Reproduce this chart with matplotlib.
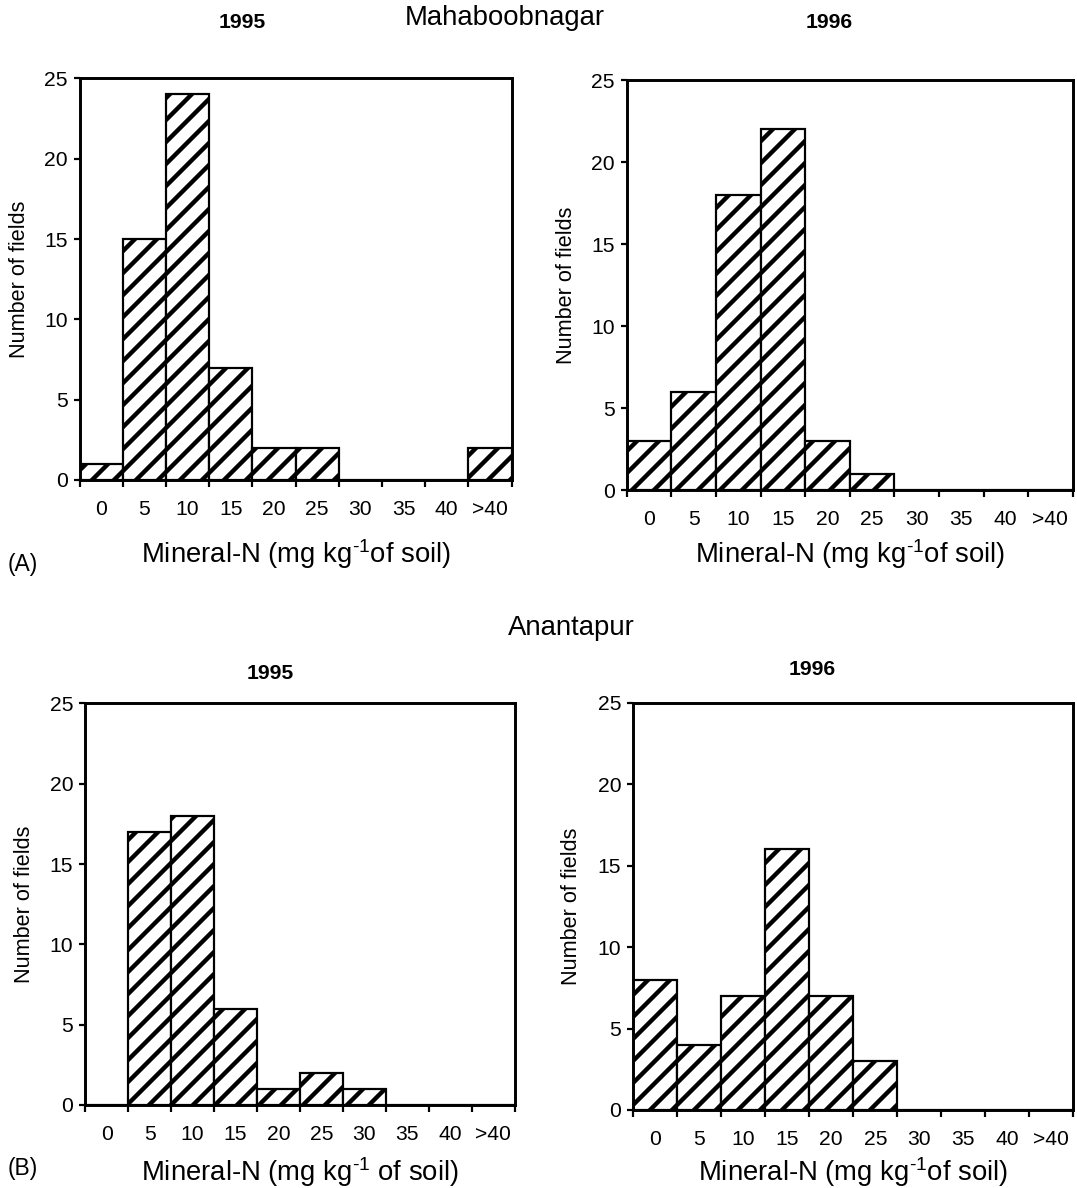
import numpy as np
import matplotlib
matplotlib.use('Agg')
import matplotlib.pyplot as plt

plt.rcParams['font.family'] = ['Liberation Sans', 'DejaVu Sans']
plt.rcParams['mathtext.fontset'] = 'custom'
plt.rcParams['mathtext.rm'] = 'Liberation Sans'
plt.rcParams['mathtext.default'] = 'regular'
plt.rcParams['hatch.linewidth'] = 2.4

# bins of mineral-N (mg/kg of soil)
bins = ['0', '5', '10', '15', '20', '25', '30', '35', '40', '>40']

# number of fields per bin
mah_1995 = [1, 15, 24, 7, 2, 2, 0, 0, 0, 2]
mah_1996 = [3, 6, 18, 22, 3, 1, 0, 0, 0, 0]
ana_1995 = [0, 17, 18, 6, 1, 2, 1, 0, 0, 0]
ana_1996 = [8, 4, 7, 16, 7, 3, 0, 0, 0, 0]

DPI = 132
fig = plt.figure(figsize=(1077 / DPI, 1188 / DPI), dpi=DPI)

# (counts, year, axes rect, title pos, xlabel text, xlabel y, ylabel x)
panels = [
    (mah_1995, '1995', [0.074, 0.596, 0.401, 0.338], (0.377, 1.139),
     r'Mineral-N (mg kg$^{\text{-}1}$of soil)', -0.142, -0.116),
    (mah_1996, '1996', [0.582, 0.5875, 0.414, 0.345], (0.453, 1.141),
     r'Mineral-N (mg kg$^{\text{-}1}$of soil)', -0.115, -0.112),
    (ana_1995, '1995', [0.079, 0.0699, 0.399, 0.338], (0.43, 1.075),
     r'Mineral-N (mg kg$^{\text{-}1}$ of soil)', -0.124, -0.116),
    (ana_1996, '1996', [0.588, 0.0657, 0.4085, 0.3426], (0.407, 1.081),
     r'Mineral-N (mg kg$^{\text{-}1}$of soil)', -0.111, -0.116),
]

x = np.arange(len(bins))
for counts, year, rect, tpos, xlab, xly, ylx in panels:
    ax = fig.add_axes(rect)
    ax.bar(x, counts, width=1.0, color='white', edgecolor='black',
           linewidth=1.2, hatch='//')
    ax.set_xlim(-0.5, len(bins) - 0.5)
    ax.set_ylim(0, 25)
    ax.set_yticks(range(0, 26, 5))
    ax.set_xticks(x)
    ax.set_xticklabels(bins)
    ax.set_xticks(np.arange(-0.5, len(bins), 1), minor=True)
    ax.tick_params(axis='x', which='major', length=0, pad=11, labelsize=11.5)
    ax.tick_params(axis='x', which='minor', length=4, width=1.2, direction='out')
    ax.tick_params(axis='y', length=3.5, width=1.2, direction='out', pad=3,
                   labelsize=11.5)
    for s in ax.spines.values():
        s.set_linewidth(1.6)
    ax.set_xlabel(xlab, fontsize=15)
    ax.xaxis.set_label_coords(0.5, xly)
    ax.set_ylabel('Number of fields', fontsize=11.8)
    ax.yaxis.set_label_coords(ylx, 0.5)
    ax.text(tpos[0], tpos[1], year, transform=ax.transAxes, ha='center',
            va='center', fontsize=11.5, fontweight='bold')

fig.text(505 / 1077, 1 - 18 / 1188, 'Mahaboobnagar', ha='center', va='center',
         fontsize=15)
fig.text(571 / 1077, 1 - 628 / 1188, 'Anantapur', ha='center', va='center',
         fontsize=15)
fig.text(8 / 1077, 1 - 565 / 1188, '(A)', ha='left', va='center', fontsize=12.5)
fig.text(8 / 1077, 1 - 1168 / 1188, '(B)', ha='left', va='center', fontsize=12.5)

fig.savefig('out.png', dpi=DPI)
